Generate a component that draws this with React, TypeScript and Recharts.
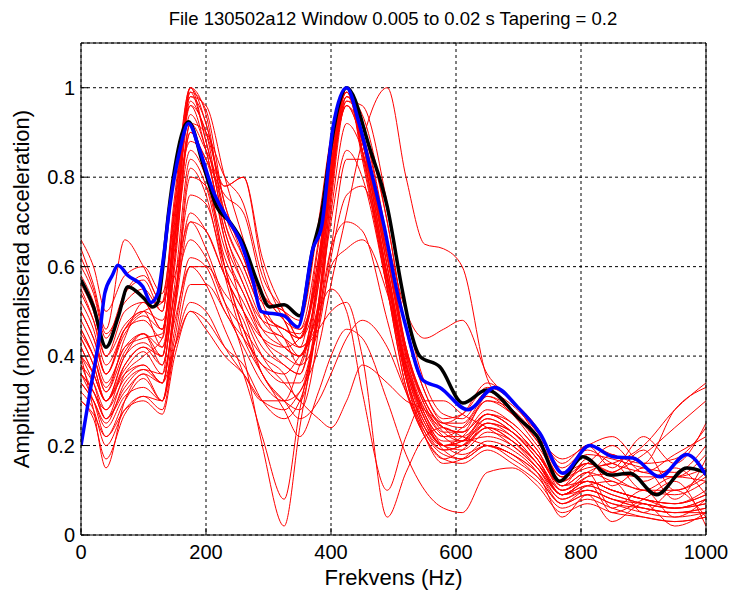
import { LineChart, Line, XAxis, YAxis, CartesianGrid } from "recharts"

// frequency grid (Hz) shared by the individual red traces
const FREQ = [0, 20, 40, 70, 100, 130, 150, 175, 200, 230, 260, 290, 325, 350, 380, 400, 425, 450, 490, 520, 550, 580, 610, 650, 690, 730, 770, 810, 850, 900, 950, 1000]

const red01 = [0.55, 0.48, 0.38, 0.46, 0.5, 0.52, 0.76, 1.0, 0.88, 0.7, 0.6, 0.5, 0.46, 0.45, 0.62, 0.84, 1.0, 0.88, 0.58, 0.36, 0.24, 0.2, 0.22, 0.28, 0.25, 0.19, 0.1, 0.14, 0.16, 0.1, 0.13, 0.12]
const red02 = [0.45, 0.4, 0.33, 0.42, 0.44, 0.45, 0.7, 0.98, 0.92, 0.72, 0.62, 0.52, 0.5, 0.46, 0.6, 0.82, 0.98, 0.9, 0.62, 0.4, 0.27, 0.22, 0.24, 0.3, 0.27, 0.21, 0.13, 0.16, 0.14, 0.19, 0.1, 0.14]
const red03 = [0.62, 0.55, 0.45, 0.52, 0.55, 0.5, 0.74, 0.96, 0.9, 0.68, 0.58, 0.48, 0.44, 0.42, 0.65, 0.87, 1.0, 0.85, 0.55, 0.33, 0.22, 0.17, 0.19, 0.24, 0.21, 0.15, 0.08, 0.11, 0.12, 0.05, 0.1, 0.04]
const red04 = [0.38, 0.32, 0.28, 0.38, 0.42, 0.4, 0.66, 0.99, 0.95, 0.74, 0.64, 0.54, 0.5, 0.48, 0.7, 0.89, 0.99, 0.86, 0.57, 0.36, 0.24, 0.19, 0.2, 0.26, 0.23, 0.17, 0.09, 0.12, 0.1, 0.08, 0.07, 0.1]
const red05 = [0.5, 0.44, 0.36, 0.46, 0.48, 0.44, 0.68, 0.94, 0.86, 0.66, 0.56, 0.46, 0.42, 0.4, 0.58, 0.8, 0.97, 0.92, 0.66, 0.42, 0.29, 0.23, 0.23, 0.31, 0.28, 0.21, 0.12, 0.16, 0.2, 0.14, 0.18, 0.22]
const red06 = [0.34, 0.3, 0.25, 0.34, 0.37, 0.36, 0.62, 1.0, 0.94, 0.7, 0.6, 0.5, 0.46, 0.44, 0.62, 0.82, 0.96, 0.88, 0.6, 0.35, 0.22, 0.16, 0.17, 0.21, 0.19, 0.14, 0.04, 0.09, 0.03, 0.07, 0.02, 0.05]
const red07 = [0.58, 0.52, 0.42, 0.54, 0.58, 0.52, 0.66, 0.9, 0.84, 0.76, 0.72, 0.56, 0.48, 0.46, 0.66, 0.87, 1.0, 0.86, 0.57, 0.37, 0.26, 0.21, 0.21, 0.25, 0.23, 0.18, 0.12, 0.16, 0.13, 0.1, 0.1, 0.13]
const red08 = [0.42, 0.36, 0.3, 0.4, 0.45, 0.4, 0.6, 0.92, 0.9, 0.8, 0.74, 0.58, 0.5, 0.44, 0.6, 0.83, 0.99, 0.9, 0.63, 0.41, 0.3, 0.25, 0.25, 0.31, 0.27, 0.2, 0.13, 0.2, 0.15, 0.22, 0.16, 0.25]
const red09 = [0.66, 0.6, 0.5, 0.58, 0.6, 0.54, 0.72, 0.88, 0.84, 0.68, 0.56, 0.48, 0.46, 0.44, 0.56, 0.78, 0.98, 0.92, 0.7, 0.46, 0.32, 0.26, 0.27, 0.33, 0.3, 0.23, 0.15, 0.19, 0.16, 0.14, 0.13, 0.15]
const red10 = [0.46, 0.4, 0.32, 0.44, 0.52, 0.46, 0.64, 0.86, 0.8, 0.64, 0.54, 0.46, 0.44, 0.4, 0.58, 0.82, 1.0, 0.88, 0.58, 0.37, 0.25, 0.2, 0.21, 0.27, 0.25, 0.19, 0.11, 0.14, 0.06, 0.1, 0.04, 0.08]
const red11 = [0.4, 0.36, 0.3, 0.36, 0.38, 0.34, 0.52, 0.72, 0.68, 0.58, 0.5, 0.42, 0.38, 0.36, 0.56, 0.8, 1.0, 0.9, 0.6, 0.39, 0.27, 0.2, 0.19, 0.23, 0.21, 0.16, 0.09, 0.12, 0.1, 0.08, 0.06, 0.08]
const red12 = [0.36, 0.3, 0.22, 0.3, 0.35, 0.3, 0.46, 0.62, 0.6, 0.5, 0.44, 0.38, 0.34, 0.34, 0.52, 0.78, 1.0, 0.92, 0.65, 0.41, 0.29, 0.23, 0.21, 0.27, 0.24, 0.18, 0.11, 0.17, 0.11, 0.15, 0.08, 0.17]
const red13 = [0.48, 0.42, 0.34, 0.42, 0.45, 0.38, 0.54, 0.66, 0.62, 0.52, 0.46, 0.4, 0.36, 0.3, 0.5, 0.76, 0.98, 0.94, 0.7, 0.46, 0.32, 0.25, 0.24, 0.3, 0.28, 0.22, 0.14, 0.16, 0.14, 0.13, 0.13, 0.18]
const red14 = [0.32, 0.28, 0.2, 0.28, 0.31, 0.28, 0.42, 0.56, 0.56, 0.5, 0.42, 0.34, 0.3, 0.32, 0.52, 0.8, 1.0, 0.86, 0.56, 0.35, 0.23, 0.18, 0.17, 0.2, 0.18, 0.14, 0.07, 0.09, 0.07, 0.06, 0.05, 0.06]
const red15 = [0.52, 0.46, 0.36, 0.46, 0.5, 0.42, 0.54, 0.76, 0.74, 0.6, 0.52, 0.44, 0.4, 0.38, 0.6, 0.85, 1.0, 0.84, 0.55, 0.33, 0.23, 0.19, 0.2, 0.24, 0.21, 0.16, 0.1, 0.13, 0.18, 0.12, 0.15, 0.09]
const red16 = [0.3, 0.26, 0.17, 0.27, 0.31, 0.3, 0.44, 0.6, 0.6, 0.54, 0.48, 0.36, 0.3, 0.28, 0.46, 0.74, 0.97, 0.96, 0.74, 0.5, 0.34, 0.27, 0.26, 0.32, 0.29, 0.23, 0.16, 0.2, 0.18, 0.16, 0.17, 0.24]
const red17 = [0.6, 0.54, 0.44, 0.54, 0.57, 0.5, 0.74, 1.0, 0.92, 0.74, 0.62, 0.5, 0.42, 0.4, 0.52, 0.7, 0.86, 0.8, 0.55, 0.35, 0.25, 0.2, 0.21, 0.25, 0.22, 0.16, 0.09, 0.11, 0.09, 0.07, 0.06, 0.07]
const red18 = [0.54, 0.48, 0.4, 0.5, 0.52, 0.46, 0.7, 0.98, 0.96, 0.8, 0.66, 0.52, 0.44, 0.38, 0.46, 0.62, 0.76, 0.78, 0.58, 0.38, 0.28, 0.24, 0.23, 0.27, 0.24, 0.18, 0.11, 0.12, 0.1, 0.08, 0.07, 0.09]
const red19 = [0.44, 0.38, 0.3, 0.4, 0.43, 0.4, 0.66, 0.97, 0.9, 0.78, 0.8, 0.6, 0.48, 0.42, 0.5, 0.64, 0.7, 0.68, 0.48, 0.32, 0.22, 0.17, 0.16, 0.19, 0.16, 0.12, 0.06, 0.08, 0.06, 0.04, 0.03, 0.04]
const red20 = [0.4, 0.34, 0.26, 0.36, 0.4, 0.44, 0.72, 0.99, 0.88, 0.72, 0.64, 0.54, 0.48, 0.42, 0.48, 0.6, 0.64, 0.66, 0.54, 0.38, 0.26, 0.19, 0.17, 0.2, 0.17, 0.13, 0.07, 0.1, 0.08, 0.06, 0.05, 0.05]
const red21 = [0.36, 0.32, 0.26, 0.33, 0.37, 0.34, 0.42, 0.5, 0.46, 0.4, 0.36, 0.3, 0.28, 0.32, 0.42, 0.56, 0.72, 0.88, 1.0, 0.8, 0.65, 0.64, 0.6, 0.35, 0.28, 0.22, 0.17, 0.2, 0.22, 0.16, 0.28, 0.33]
const red22 = [0.56, 0.5, 0.4, 0.47, 0.5, 0.48, 0.58, 0.7, 0.64, 0.52, 0.4, 0.2, 0.02, 0.24, 0.5, 0.72, 0.92, 0.86, 0.58, 0.38, 0.27, 0.22, 0.22, 0.26, 0.23, 0.17, 0.1, 0.13, 0.14, 0.18, 0.24, 0.3]
const red23 = [0.42, 0.36, 0.3, 0.37, 0.41, 0.36, 0.48, 0.6, 0.56, 0.46, 0.36, 0.22, 0.08, 0.28, 0.48, 0.64, 0.84, 0.84, 0.62, 0.42, 0.3, 0.24, 0.23, 0.27, 0.24, 0.18, 0.11, 0.14, 0.12, 0.1, 0.09, 0.12]
const red24 = [0.34, 0.3, 0.24, 0.31, 0.33, 0.3, 0.42, 0.52, 0.5, 0.42, 0.36, 0.3, 0.3, 0.38, 0.5, 0.55, 0.5, 0.32, 0.1, 0.22, 0.3, 0.3, 0.27, 0.24, 0.2, 0.15, 0.09, 0.12, 0.05, 0.08, 0.12, 0.02]
const red25 = [0.5, 0.44, 0.36, 0.45, 0.49, 0.46, 0.68, 0.96, 0.86, 0.66, 0.5, 0.4, 0.34, 0.3, 0.26, 0.24, 0.3, 0.38, 0.34, 0.3, 0.28, 0.24, 0.21, 0.22, 0.2, 0.15, 0.09, 0.1, 0.08, 0.07, 0.06, 0.07]
const red26 = [0.46, 0.4, 0.32, 0.41, 0.45, 0.42, 0.62, 0.9, 0.82, 0.6, 0.46, 0.38, 0.36, 0.4, 0.46, 0.5, 0.52, 0.4, 0.04, 0.14, 0.22, 0.24, 0.22, 0.2, 0.18, 0.13, 0.07, 0.09, 0.07, 0.05, 0.04, 0.05]
const red27 = [0.4, 0.28, 0.15, 0.3, 0.36, 0.3, 0.5, 0.8, 0.78, 0.62, 0.54, 0.44, 0.38, 0.36, 0.58, 0.82, 0.99, 0.88, 0.6, 0.38, 0.26, 0.2, 0.2, 0.25, 0.23, 0.17, 0.09, 0.12, 0.1, 0.08, 0.07, 0.09]
const red28 = [0.3, 0.27, 0.22, 0.28, 0.3, 0.27, 0.4, 0.5, 0.48, 0.42, 0.38, 0.3, 0.26, 0.3, 0.5, 0.76, 1.0, 0.9, 0.62, 0.4, 0.28, 0.22, 0.2, 0.24, 0.22, 0.16, 0.09, 0.11, 0.09, 0.07, 0.06, 0.08]
const red29 = [0.64, 0.56, 0.46, 0.66, 0.6, 0.52, 0.66, 0.92, 0.86, 0.78, 0.8, 0.62, 0.5, 0.44, 0.6, 0.8, 0.96, 0.9, 0.64, 0.42, 0.3, 0.25, 0.27, 0.34, 0.3, 0.24, 0.14, 0.18, 0.17, 0.15, 0.14, 0.2]
const red30 = [0.38, 0.34, 0.28, 0.35, 0.38, 0.34, 0.5, 0.7, 0.68, 0.58, 0.5, 0.44, 0.42, 0.44, 0.6, 0.8, 0.96, 0.88, 0.66, 0.5, 0.44, 0.46, 0.48, 0.36, 0.3, 0.22, 0.13, 0.15, 0.16, 0.2, 0.28, 0.34]
const red31 = [0.44, 0.38, 0.3, 0.38, 0.42, 0.38, 0.56, 0.84, 0.78, 0.6, 0.46, 0.36, 0.3, 0.26, 0.3, 0.36, 0.44, 0.48, 0.42, 0.32, 0.24, 0.2, 0.18, 0.2, 0.18, 0.14, 0.08, 0.1, 0.08, 0.06, 0.05, 0.06]
const red32 = [0.36, 0.32, 0.26, 0.32, 0.36, 0.34, 0.52, 0.82, 0.76, 0.58, 0.44, 0.36, 0.28, 0.22, 0.32, 0.4, 0.46, 0.44, 0.3, 0.18, 0.1, 0.06, 0.05, 0.14, 0.15, 0.11, 0.05, 0.07, 0.05, 0.04, 0.03, 0.04]

const REDS = [red01, red02, red03, red04, red05, red06, red07, red08, red09, red10, red11, red12, red13, red14, red15, red16,
    red17, red18, red19, red20, red21, red22, red23, red24, red25, red26, red27, red28, red29, red30, red31, red32]

// black (mean) curve
const MEAN_FREQ = [0, 20, 40, 60, 75, 100, 115, 123, 131, 140, 150, 172, 195, 217, 238, 260, 281, 302, 325, 350, 371, 385, 400, 412, 425, 463, 490, 513, 526, 542, 574, 611, 649, 703, 730, 766, 803, 846, 878, 921, 969, 1000]
const MEAN_AMP = [0.57, 0.51, 0.42, 0.49, 0.555, 0.53, 0.51, 0.52, 0.6, 0.72, 0.82, 0.924, 0.83, 0.734, 0.7, 0.65, 0.57, 0.51, 0.515, 0.49, 0.64, 0.72, 0.87, 0.96, 1.0, 0.86, 0.734, 0.555, 0.465, 0.4, 0.376, 0.295, 0.324, 0.257, 0.22, 0.12, 0.175, 0.134, 0.138, 0.09, 0.15, 0.14]

// blue (reference) curve
const REF_FREQ = [0, 14, 30, 38, 50, 59, 75, 99, 112, 123, 131, 142, 158, 172, 190, 211, 233, 254, 275, 288, 325, 347, 371, 385, 403, 425, 445, 463, 485, 504, 520, 547, 574, 619, 662, 698, 734, 771, 814, 851, 883, 926, 969, 1000]
const REF_AMP = [0.2, 0.317, 0.45, 0.54, 0.58, 0.603, 0.58, 0.555, 0.52, 0.54, 0.61, 0.734, 0.86, 0.92, 0.86, 0.77, 0.71, 0.66, 0.57, 0.5, 0.49, 0.465, 0.64, 0.69, 0.91, 1.0, 0.92, 0.82, 0.69, 0.555, 0.465, 0.346, 0.33, 0.28, 0.33, 0.287, 0.228, 0.138, 0.2, 0.175, 0.172, 0.13, 0.18, 0.134]

const X_TICKS = [0, 200, 400, 600, 800, 1000]
const Y_TICKS = [0, 0.2, 0.4, 0.6, 0.8, 1]

const FONT = "'Liberation Sans', Arial, sans-serif"

export default function App() {
    const rows = FREQ.map((f, i) => {
        const row: Record<string, number> = { f }
        REDS.forEach((s, k) => { row[`r${k}`] = s[i] })
        return row
    })
    const meanData = MEAN_FREQ.map((f, i) => ({ f, v: MEAN_AMP[i] }))
    const refData = REF_FREQ.map((f, i) => ({ f, v: REF_AMP[i] }))

    const tickStyle = { fontSize: 20, fill: "#000", fontFamily: FONT }

    return (
        <div style={{ position: "absolute", left: 0, top: 0, width: 734, height: 594, background: "#fff", fontFamily: FONT }}>
            <div style={{ position: "absolute", left: 43, width: 700, top: 7, textAlign: "center", fontSize: 18.5, lineHeight: "24px" }}>
                File 130502a12 Window 0.005 to 0.02 s Tapering = 0.2
            </div>
            <div style={{ position: "absolute", left: 81, width: 625, top: 565, textAlign: "center", fontSize: 22, lineHeight: "26px" }}>
                Frekvens (Hz)
            </div>
            <div style={{
                position: "absolute", left: 22, top: 289, width: 460, marginLeft: -230, marginTop: -13,
                textAlign: "center", fontSize: 22, lineHeight: "26px", transform: "rotate(-90deg)", whiteSpace: "nowrap"
            }}>
                Amplitud (normaliserad acceleration)
            </div>
            <LineChart width={734} height={594} data={rows} margin={{ top: 33, right: 18, bottom: 19, left: 21 }}>
                <CartesianGrid stroke="#000" strokeDasharray="3 3" strokeWidth={1} />
                <XAxis dataKey="f" type="number" domain={[0, 1000]} ticks={X_TICKS} height={40}
                    tickSize={-7} tickMargin={17} tick={tickStyle} stroke="#000" interval={0} allowDataOverflow />
                <XAxis xAxisId="top" orientation="top" dataKey="f" type="number" domain={[0, 1000]} ticks={X_TICKS}
                    height={10} tickSize={-7} tick={false} stroke="#000" interval={0} />
                <YAxis type="number" domain={[0, 1.1]} ticks={Y_TICKS} width={60}
                    tickSize={-7} tickMargin={13} tick={tickStyle} stroke="#000" interval={0} allowDataOverflow />
                <YAxis yAxisId="right" orientation="right" type="number" domain={[0, 1.1]} ticks={Y_TICKS}
                    width={10} tickSize={-7} tick={false} stroke="#000" interval={0} />
                {REDS.map((_, k) => (
                    <Line key={`r${k}`} dataKey={`r${k}`} type="monotone" stroke="#ff0000" strokeWidth={1}
                        dot={false} isAnimationActive={false} />
                ))}
                <Line data={meanData} dataKey="v" type="monotone" stroke="#000" strokeWidth={3.5}
                    dot={false} isAnimationActive={false} />
                <Line data={refData} dataKey="v" type="monotone" stroke="#0000ff" strokeWidth={3.5}
                    dot={false} isAnimationActive={false} />
            </LineChart>
        </div>
    )
}
